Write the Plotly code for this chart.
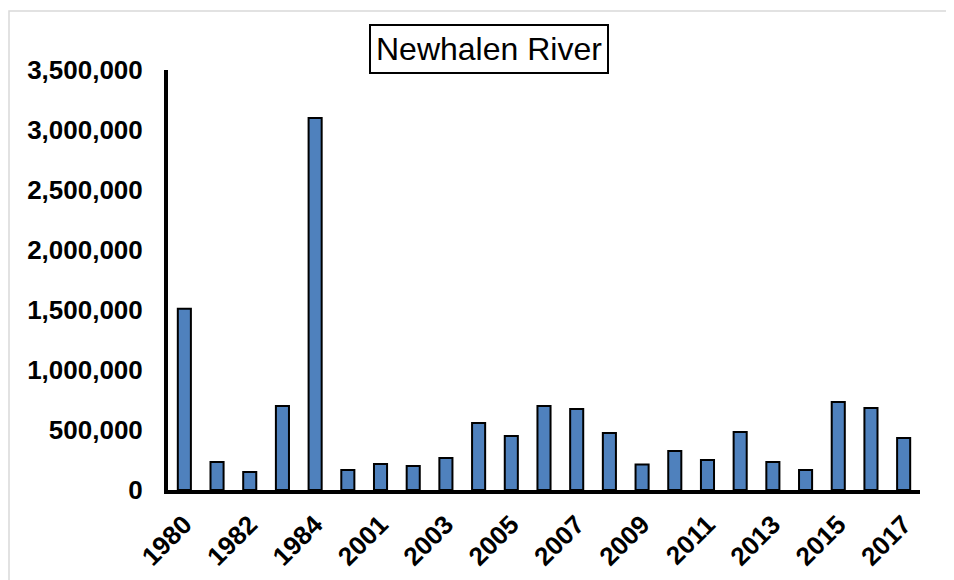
import plotly.graph_objects as go

years = ["1980", "1981", "1982", "1983", "1984",
         "2000", "2001", "2002", "2003", "2004", "2005", "2006", "2007", "2008",
         "2009", "2010", "2011", "2012", "2013", "2014", "2015", "2016", "2017"]
escapement = [1510000, 233000, 150000, 700000, 3100000,
              167000, 217000, 200000, 267000, 558000, 450000, 700000, 675000, 475000,
              212000, 325000, 250000, 483000, 233000, 167000, 733000, 683000, 433000]
shown_labels = years[::2]
y_ticks = [0, 500000, 1000000, 1500000, 2000000, 2500000, 3000000, 3500000]
title_text = "Newhalen River"

FONT = "Liberation Sans, Arial, sans-serif"
OFF = 8  # page body margin
W, H = 954 - OFF, 580 - OFF
L, R, T, B = 168 - OFF, 34, 70 - OFF, 90
pw, ph = W - L - R, H - T - B

def px_x(x):
    return (x - OFF - L) / pw

def px_y(y):
    return (H - B - (y - OFF)) / ph

fig = go.Figure(go.Bar(
    x=years, y=escapement,
    marker=dict(color="#4f81bd", line=dict(color="black", width=2)),
))

fig.update_layout(
    template="none",
    width=W, height=H,
    margin=dict(l=L, r=R, t=T, b=B, autoexpand=False),
    paper_bgcolor="white", plot_bgcolor="white",
    bargap=0.6,
    showlegend=False,
    font=dict(family=FONT, color="black"),
    xaxis=dict(
        type="category", automargin=False,
        tickmode="array", tickvals=shown_labels, ticktext=shown_labels,
        tickangle=-45,
        tickfont=dict(family=FONT, size=26, color="black", weight="bold"),
        showline=True, linecolor="black", linewidth=4,
        showgrid=False, zeroline=False, ticks="", ticklabelstandoff=5,
        range=[-0.5, len(years) - 0.5],
    ),
    yaxis=dict(
        range=[0, 3500000], automargin=False,
        tickmode="array", tickvals=y_ticks,
        tickformat=",d",
        tickfont=dict(family=FONT, size=26, color="black", weight="bold"),
        showline=True, linecolor="black", linewidth=4,
        showgrid=False, zeroline=False, ticks="", ticklabelstandoff=16,
    ),
    annotations=[dict(
        text=title_text, xref="paper", yref="paper",
        x=px_x(489), y=px_y(49.5), xanchor="center", yanchor="middle",
        showarrow=False,
        font=dict(family=FONT, size=32, color="black"),
        bordercolor="black", borderwidth=2, borderpad=5, bgcolor="white",
    )],
    shapes=[dict(
        type="rect", xref="paper", yref="paper",
        x0=px_x(9), x1=px_x(1000), y0=px_y(11), y1=px_y(700),
        line=dict(color="#d9d9d9", width=1.5), layer="below",
    )],
)

fig.write_html("out.html")
